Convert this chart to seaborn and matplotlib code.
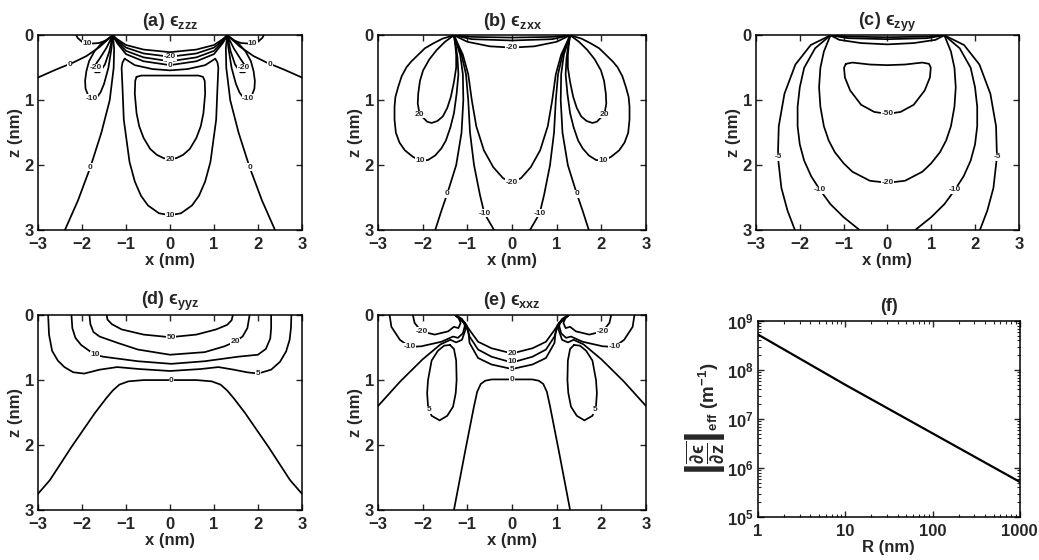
import pandas as pd
import seaborn as sns
import matplotlib
matplotlib.use('Agg')
import matplotlib.pyplot as plt
from matplotlib.ticker import FixedLocator, NullFormatter, LogLocator

# ---------------- (a) eps_zzz contour lines, (x, z) in nm ----------------
zzz_outer0_L = [(-3.0, 0.65), (-2.6, 0.53), (-2.2, 0.42), (-1.9, 0.32), (-1.6, 0.18), (-1.42, 0.07), (-1.3, 0.0)]
zzz_outer0_R = [(3.0, 0.65), (2.6, 0.53), (2.2, 0.42), (1.9, 0.32), (1.6, 0.18), (1.42, 0.07), (1.3, 0.0)]
zzz_p10_L = [(-1.3, 0.0), (-1.45, 0.08), (-1.62, 0.12), (-1.85, 0.13), (-2.0, 0.1), (-2.1, 0.04), (-2.13, 0.0)]
zzz_p10_R = [(1.3, 0.0), (1.45, 0.08), (1.62, 0.12), (1.85, 0.13), (2.0, 0.1), (2.1, 0.04), (2.13, 0.0)]
zzz_m20_L = [(-1.3, 0.0), (-1.45, 0.2), (-1.6, 0.36), (-1.7, 0.46), (-1.74, 0.53), (-1.7, 0.57), (-1.6, 0.57), (-1.48, 0.45), (-1.38, 0.25), (-1.3, 0.0)]
zzz_m20_R = [(1.3, 0.0), (1.45, 0.2), (1.6, 0.36), (1.7, 0.46), (1.74, 0.53), (1.7, 0.57), (1.6, 0.57), (1.48, 0.45), (1.38, 0.25), (1.3, 0.0)]
zzz_m10_L = [(-1.3, 0.0), (-1.55, 0.12), (-1.72, 0.25), (-1.84, 0.4), (-1.9, 0.55), (-1.93, 0.7), (-1.92, 0.82), (-1.86, 0.93),
             (-1.78, 0.98), (-1.68, 0.97), (-1.58, 0.88), (-1.5, 0.75), (-1.4, 0.5), (-1.33, 0.2), (-1.3, 0.0)]
zzz_m10_R = [(1.3, 0.0), (1.55, 0.12), (1.72, 0.25), (1.84, 0.4), (1.9, 0.55), (1.93, 0.7), (1.92, 0.82), (1.86, 0.93),
             (1.78, 0.98), (1.68, 0.97), (1.58, 0.88), (1.5, 0.75), (1.4, 0.5), (1.33, 0.2), (1.3, 0.0)]
zzz_inner0_L = [(-1.3, 0.0), (-1.27, 0.2), (-1.28, 0.5), (-1.37, 1.0), (-1.56, 1.5), (-1.81, 2.03), (-2.09, 2.54), (-2.39, 3.0)]
zzz_inner0_R = [(1.3, 0.0), (1.27, 0.2), (1.28, 0.5), (1.37, 1.0), (1.56, 1.5), (1.81, 2.03), (2.09, 2.54), (2.39, 3.0)]
zzz_arc1 = [(-1.3, 0.0), (-1.2, 0.06), (-1.0, 0.15), (-0.6, 0.22), (0.0, 0.26), (0.6, 0.22), (1.0, 0.15), (1.2, 0.06), (1.3, 0.0)]
zzz_arc_m20 = [(-1.3, 0.0), (-1.2, 0.08), (-1.0, 0.19), (-0.6, 0.28), (0.0, 0.33), (0.6, 0.28), (1.0, 0.19), (1.2, 0.08), (1.3, 0.0)]
zzz_arc3 = [(-1.3, 0.0), (-1.2, 0.1), (-1.0, 0.24), (-0.6, 0.34), (0.0, 0.4), (0.6, 0.34), (1.0, 0.24), (1.2, 0.1), (1.3, 0.0)]
zzz_arc0 = [(-1.3, 0.0), (-1.2, 0.12), (-1.0, 0.29), (-0.6, 0.4), (0.0, 0.46), (0.6, 0.4), (1.0, 0.29), (1.2, 0.12), (1.3, 0.0)]
zzz_p10_U = [(-1.03, 0.36), (-1.08, 0.42), (-1.1, 0.5), (-1.08, 0.8), (-1.05, 1.3), (-0.99, 1.6), (-0.92, 1.95), (-0.8, 2.25),
             (-0.66, 2.47), (-0.5, 2.62), (-0.25, 2.74), (0.0, 2.77), (0.25, 2.74), (0.5, 2.62), (0.66, 2.47), (0.8, 2.25),
             (0.92, 1.95), (0.99, 1.6), (1.05, 1.3), (1.08, 0.8), (1.1, 0.5), (1.08, 0.42),
             (1.03, 0.36), (0.8, 0.46), (0.4, 0.52), (0.0, 0.54), (-0.4, 0.52), (-0.8, 0.46), (-1.03, 0.36)]
zzz_p20 = [(-0.76, 0.64), (-0.79, 0.7), (-0.8, 0.9), (-0.76, 1.2), (-0.7, 1.4), (-0.6, 1.58), (-0.45, 1.75), (-0.3, 1.84),
           (-0.15, 1.89), (0.0, 1.91), (0.15, 1.89), (0.3, 1.84), (0.45, 1.75), (0.6, 1.58), (0.7, 1.4), (0.76, 1.2),
           (0.8, 0.9), (0.79, 0.7), (0.75, 0.64), (0.65, 0.62), (0.3, 0.62), (0.0, 0.62),
           (-0.3, 0.62), (-0.65, 0.62), (-0.76, 0.64)]
zzz_labels = [("-20", 0.0, 0.33), ("0", 0.0, 0.46), ("20", 0.0, 1.91), ("10", 0.0, 2.77),
              ("0", -2.28, 0.45), ("0", 2.28, 0.45), ("10", -1.88, 0.13), ("10", 1.88, 0.13),
              ("-20", -1.68, 0.5), ("-20", 1.68, 0.5), ("-10", -1.78, 0.97), ("-10", 1.78, 0.97),
              ("0", -1.81, 2.03), ("0", 1.81, 2.03)]

# ---------------- (b) eps_zxx ----------------
zxx_top1 = [(-1.3, 0.0), (-0.9, 0.025), (0.0, 0.035), (0.9, 0.025), (1.3, 0.0)]
zxx_top2 = [(-1.3, 0.0), (-0.9, 0.06), (0.0, 0.08), (0.9, 0.06), (1.3, 0.0)]
zxx_m20_arc = [(-1.3, 0.0), (-1.0, 0.1), (-0.5, 0.17), (0.0, 0.19), (0.5, 0.17), (1.0, 0.1), (1.3, 0.0)]
zxx_p10_L = [(-1.3, 0.0), (-1.55, 0.05), (-1.75, 0.12), (-1.95, 0.2), (-2.1, 0.3), (-2.25, 0.4), (-2.36, 0.49), (-2.47, 0.63),
             (-2.55, 0.8), (-2.61, 0.95), (-2.63, 1.1), (-2.63, 1.3), (-2.6, 1.5), (-2.52, 1.65), (-2.4, 1.77), (-2.22, 1.87),
             (-2.05, 1.93), (-1.88, 1.92), (-1.72, 1.85), (-1.58, 1.74), (-1.48, 1.62), (-1.38, 1.42), (-1.3, 1.2),
             (-1.24, 0.9), (-1.2, 0.6), (-1.22, 0.35), (-1.25, 0.2), (-1.3, 0.0)]
zxx_p10_R = [(1.3, 0.0), (1.55, 0.05), (1.75, 0.12), (1.95, 0.2), (2.1, 0.3), (2.25, 0.4), (2.36, 0.49), (2.47, 0.63),
             (2.55, 0.8), (2.61, 0.95), (2.63, 1.1), (2.63, 1.3), (2.6, 1.5), (2.52, 1.65), (2.4, 1.77), (2.22, 1.87),
             (2.05, 1.93), (1.88, 1.92), (1.72, 1.85), (1.58, 1.74), (1.48, 1.62), (1.38, 1.42), (1.3, 1.2),
             (1.24, 0.9), (1.2, 0.6), (1.22, 0.35), (1.25, 0.2), (1.3, 0.0)]
zxx_p20_L = [(-1.3, 0.0), (-1.5, 0.1), (-1.69, 0.23), (-1.85, 0.37), (-1.99, 0.54), (-2.06, 0.7), (-2.1, 0.9), (-2.11, 1.05),
             (-2.08, 1.17), (-2.0, 1.26), (-1.9, 1.33), (-1.8, 1.35), (-1.67, 1.32), (-1.55, 1.25), (-1.45, 1.12),
             (-1.37, 0.95), (-1.3, 0.72), (-1.25, 0.5), (-1.25, 0.3), (-1.27, 0.15), (-1.3, 0.0)]
zxx_p20_R = [(1.3, 0.0), (1.5, 0.1), (1.69, 0.23), (1.85, 0.37), (1.99, 0.54), (2.06, 0.7), (2.1, 0.9), (2.11, 1.05),
             (2.08, 1.17), (2.0, 1.26), (1.9, 1.33), (1.8, 1.35), (1.67, 1.32), (1.55, 1.25), (1.45, 1.12),
             (1.37, 0.95), (1.3, 0.72), (1.25, 0.5), (1.25, 0.3), (1.27, 0.15), (1.3, 0.0)]
zxx_zero_L = [(-1.3, 0.0), (-1.16, 0.3), (-1.1, 0.6), (-1.09, 1.0), (-1.13, 1.5), (-1.25, 2.0), (-1.45, 2.44), (-1.58, 2.7), (-1.72, 3.0)]
zxx_zero_R = [(1.3, 0.0), (1.16, 0.3), (1.1, 0.6), (1.09, 1.0), (1.13, 1.5), (1.25, 2.0), (1.45, 2.44), (1.58, 2.7), (1.72, 3.0)]
zxx_m10_L = [(-1.3, 0.0), (-1.13, 0.3), (-1.03, 0.6), (-0.98, 1.0), (-0.94, 1.5), (-0.85, 2.0), (-0.72, 2.45), (-0.62, 2.74), (-0.4, 3.0)]
zxx_m10_R = [(1.3, 0.0), (1.13, 0.3), (1.03, 0.6), (0.98, 1.0), (0.94, 1.5), (0.85, 2.0), (0.72, 2.45), (0.62, 2.74), (0.4, 3.0)]
zxx_m20_U = [(-1.3, 0.0), (-1.1, 0.3), (-0.98, 0.6), (-0.9, 1.0), (-0.8, 1.4), (-0.63, 1.77), (-0.42, 2.03), (-0.2, 2.2),
             (0.0, 2.26), (0.2, 2.2), (0.42, 2.03), (0.63, 1.77), (0.8, 1.4), (0.9, 1.0), (0.98, 0.6), (1.1, 0.3), (1.3, 0.0)]
zxx_labels = [("-20", 0.0, 0.19), ("20", -2.07, 1.22), ("20", 2.07, 1.22), ("10", -2.05, 1.93), ("10", 2.05, 1.93),
              ("0", -1.45, 2.44), ("0", 1.45, 2.44), ("-10", -0.62, 2.74), ("-10", 0.62, 2.74), ("-20", 0.0, 2.26)]

# ---------------- (c) eps_zyy ----------------
zyy_top1 = [(-1.3, 0.0), (-0.9, 0.02), (0.0, 0.03), (0.9, 0.02), (1.3, 0.0)]
zyy_top2 = [(-1.3, 0.0), (-0.9, 0.045), (0.0, 0.06), (0.9, 0.045), (1.3, 0.0)]
zyy_top3 = [(-1.3, 0.0), (-1.1, 0.07), (-0.6, 0.12), (0.0, 0.14), (0.6, 0.12), (1.1, 0.07), (1.3, 0.0)]
zyy_m50 = [(-0.95, 0.44), (-0.99, 0.5), (-0.97, 0.65), (-0.85, 0.85), (-0.6, 1.07), (-0.3, 1.18), (0.0, 1.21), (0.3, 1.18),
           (0.6, 1.07), (0.85, 0.85), (0.97, 0.65), (0.99, 0.5), (0.95, 0.44), (0.8, 0.42), (0.4, 0.45), (0.0, 0.46),
           (-0.4, 0.45), (-0.8, 0.42), (-0.95, 0.44)]
zyy_m20_U = [(-1.3, 0.0), (-1.45, 0.25), (-1.53, 0.5), (-1.56, 0.8), (-1.53, 1.1), (-1.45, 1.4), (-1.34, 1.62), (-1.2, 1.8),
             (-1.0, 1.97), (-0.8, 2.1), (-0.4, 2.24), (0.0, 2.27), (0.4, 2.24), (0.8, 2.1), (1.0, 1.97), (1.2, 1.8),
             (1.34, 1.62), (1.45, 1.4), (1.53, 1.1), (1.56, 0.8), (1.53, 0.5), (1.45, 0.25), (1.3, 0.0)]
zyy_m10_L = [(-1.3, 0.0), (-1.65, 0.2), (-1.9, 0.5), (-2.0, 0.8), (-2.05, 1.1), (-2.05, 1.4), (-2.0, 1.68), (-1.9, 1.93),
             (-1.74, 2.17), (-1.54, 2.38), (-1.3, 2.6), (-1.0, 2.8), (-0.63, 3.0)]
zyy_m10_R = [(1.3, 0.0), (1.65, 0.2), (1.9, 0.5), (2.0, 0.8), (2.05, 1.1), (2.05, 1.4), (2.0, 1.68), (1.9, 1.93),
             (1.74, 2.17), (1.54, 2.38), (1.3, 2.6), (1.0, 2.8), (0.63, 3.0)]
zyy_m5_L = [(-1.3, 0.0), (-1.75, 0.15), (-2.1, 0.45), (-2.35, 0.9), (-2.48, 1.4), (-2.5, 1.87), (-2.42, 2.35), (-2.28, 2.7), (-2.11, 3.0)]
zyy_m5_R = [(1.3, 0.0), (1.75, 0.15), (2.1, 0.45), (2.35, 0.9), (2.48, 1.4), (2.5, 1.87), (2.42, 2.35), (2.28, 2.7), (2.11, 3.0)]
zyy_labels = [("-50", 0.0, 1.21), ("-20", 0.0, 2.27), ("-5", -2.5, 1.87), ("-5", 2.5, 1.87),
              ("-10", -1.54, 2.38), ("-10", 1.54, 2.38)]

# ---------------- (d) eps_yyz ----------------
yyz_p50 = [(-1.44, 0.0), (-1.42, 0.07), (-1.32, 0.14), (-1.1, 0.22), (-0.6, 0.3), (0.0, 0.34), (0.6, 0.3), (1.05, 0.22),
           (1.3, 0.15), (1.4, 0.08), (1.43, 0.0)]
yyz_p20 = [(-1.83, 0.0), (-1.81, 0.14), (-1.74, 0.26), (-1.6, 0.33), (-1.18, 0.43), (-0.73, 0.53), (0.0, 0.61), (0.79, 0.57),
           (1.24, 0.48), (1.48, 0.41), (1.65, 0.33), (1.76, 0.2), (1.81, 0.0)]
yyz_p10 = [(-2.24, 0.0), (-2.22, 0.2), (-2.15, 0.35), (-2.02, 0.46), (-1.71, 0.61), (-1.52, 0.64), (-0.73, 0.71), (0.03, 0.75),
           (0.79, 0.71), (1.55, 0.64), (2.0, 0.61), (2.18, 0.52), (2.28, 0.36), (2.3, 0.2), (2.3, 0.0)]
yyz_p5 = [(-2.77, 0.0), (-2.75, 0.3), (-2.68, 0.55), (-2.55, 0.7), (-2.4, 0.8), (-2.2, 0.88), (-1.95, 0.9), (-1.6, 0.84),
          (-1.2, 0.8), (-0.7, 0.83), (0.0, 0.86), (0.7, 0.83), (1.1, 0.8), (1.45, 0.84), (1.75, 0.88), (2.0, 0.9),
          (2.3, 0.84), (2.5, 0.72), (2.64, 0.56), (2.72, 0.38), (2.75, 0.2), (2.76, 0.0)]
yyz_zero = [(-3.0, 2.75), (-2.73, 2.54), (-2.24, 2.03), (-1.71, 1.51), (-1.45, 1.28), (-1.3, 1.16), (-1.15, 1.07),
            (-0.95, 1.02), (-0.6, 1.0), (0.0, 1.0), (0.6, 1.0), (0.95, 1.02), (1.15, 1.07), (1.3, 1.16), (1.45, 1.28),
            (1.71, 1.51), (2.24, 2.03), (2.73, 2.54), (3.0, 2.75)]
yyz_labels = [("50", 0.03, 0.34), ("20", 1.48, 0.41), ("10", -1.71, 0.61), ("5", 2.0, 0.9), ("0", 0.03, 1.0)]

# ---------------- (e) eps_xxz ----------------
xxz_m20_L = [(-2.22, 0.0), (-2.18, 0.12), (-2.03, 0.25), (-1.73, 0.3), (-1.43, 0.25), (-1.3, 0.18), (-1.2, 0.2), (-1.15, 0.12), (-1.2, 0.04), (-1.27, 0.0)]
xxz_m20_R = [(2.22, 0.0), (2.18, 0.12), (2.03, 0.25), (1.73, 0.3), (1.43, 0.25), (1.3, 0.18), (1.2, 0.2), (1.15, 0.12), (1.2, 0.04), (1.27, 0.0)]
xxz_m10_L = [(-2.74, 0.0), (-2.7, 0.18), (-2.51, 0.38), (-2.29, 0.49), (-2.03, 0.48), (-1.58, 0.41), (-1.32, 0.33), (-1.21, 0.35),
             (-1.1, 0.28), (-1.05, 0.15), (-1.15, 0.05), (-1.27, 0.0)]
xxz_m10_R = [(2.74, 0.0), (2.7, 0.18), (2.51, 0.38), (2.29, 0.49), (2.03, 0.48), (1.58, 0.41), (1.32, 0.33), (1.21, 0.35),
             (1.1, 0.28), (1.05, 0.15), (1.15, 0.05), (1.27, 0.0)]
xxz_diag_L = [(-3.0, 1.4), (-2.5, 1.02), (-2.0, 0.68), (-1.6, 0.45), (-1.38, 0.38), (-1.25, 0.42), (-1.12, 0.38), (-1.03, 0.2), (-1.12, 0.06), (-1.27, 0.0)]
xxz_diag_R = [(3.0, 1.4), (2.5, 1.02), (2.0, 0.68), (1.6, 0.45), (1.38, 0.38), (1.25, 0.42), (1.12, 0.38), (1.03, 0.2), (1.12, 0.06), (1.27, 0.0)]
xxz_p5lobe_L = [(-1.39, 0.46), (-1.52, 0.47), (-1.66, 0.55), (-1.8, 0.7), (-1.88, 1.0), (-1.9, 1.2), (-1.88, 1.4), (-1.8, 1.55),
                (-1.62, 1.62), (-1.45, 1.55), (-1.32, 1.41), (-1.26, 1.2), (-1.24, 1.0), (-1.25, 0.7), (-1.3, 0.52), (-1.39, 0.46)]
xxz_p5lobe_R = [(1.39, 0.46), (1.52, 0.47), (1.66, 0.55), (1.8, 0.7), (1.88, 1.0), (1.9, 1.2), (1.88, 1.4), (1.8, 1.55),
                (1.62, 1.62), (1.45, 1.55), (1.32, 1.41), (1.26, 1.2), (1.24, 1.0), (1.25, 0.7), (1.3, 0.52), (1.39, 0.46)]
xxz_p20 = [(-1.27, 0.0), (-1.1, 0.08), (-1.0, 0.18), (-0.95, 0.23), (-0.76, 0.41), (-0.46, 0.51), (0.0, 0.59),
           (0.46, 0.51), (0.76, 0.41), (0.95, 0.23), (1.0, 0.18), (1.1, 0.08), (1.27, 0.0)]
xxz_p10 = [(-1.27, 0.0), (-1.05, 0.12), (-0.98, 0.25), (-0.95, 0.33), (-0.76, 0.53), (-0.46, 0.64), (0.0, 0.73),
           (0.46, 0.64), (0.76, 0.53), (0.95, 0.33), (0.98, 0.25), (1.05, 0.12), (1.27, 0.0)]
xxz_p5 = [(-1.27, 0.0), (-1.02, 0.15), (-0.97, 0.3), (-0.95, 0.43), (-0.76, 0.66), (-0.46, 0.76), (0.0, 0.83),
          (0.46, 0.76), (0.76, 0.66), (0.95, 0.43), (0.97, 0.3), (1.02, 0.15), (1.27, 0.0)]
xxz_zero = [(-1.3, 3.0), (-1.05, 2.1), (-0.85, 1.4), (-0.78, 1.18), (-0.7, 1.06), (-0.6, 1.01), (-0.45, 0.99), (0.0, 0.99),
            (0.45, 0.99), (0.6, 1.01), (0.7, 1.06), (0.78, 1.18), (0.85, 1.4), (1.05, 2.1), (1.3, 3.0)]
xxz_labels = [("20", 0.0, 0.59), ("10", 0.0, 0.72), ("5", 0.0, 0.84), ("0", 0.0, 0.99),
              ("-20", -2.03, 0.25), ("-20", 2.03, 0.25), ("-10", -2.29, 0.49), ("-10", 2.29, 0.49),
              ("5", -1.86, 1.46), ("5", 1.86, 1.46)]

# ---------------- (f) effective strain gradient ----------------
R_nm = [1, 10, 100, 1000]
grad_eff = [5.3e8, 5.0e7, 5.1e6, 5.2e5]

sns.set_style('ticks')
plt.rcParams['font.family'] = ['Liberation Sans', 'DejaVu Sans']
plt.rcParams['font.weight'] = 'bold'
plt.rcParams['axes.labelweight'] = 'bold'
plt.rcParams['axes.titleweight'] = 'bold'
plt.rcParams['mathtext.fontset'] = 'custom'
plt.rcParams['mathtext.rm'] = 'Liberation Sans:bold'
plt.rcParams['mathtext.bf'] = 'Liberation Sans:bold'
plt.rcParams['mathtext.it'] = 'Liberation Sans:bold'
plt.rcParams['mathtext.default'] = 'bf'

fig = plt.figure(figsize=(10.39, 5.6), dpi=100)


def style_box(ax):
    ax.tick_params(direction='in', top=True, right=True, length=4, width=1, labelsize=12)
    ax.tick_params(axis='x', pad=5)
    ax.tick_params(axis='y', pad=3)
    for s in ax.spines.values():
        s.set_linewidth(1.1)
        s.set_color('black')


def contour_panel(rect, curves, labels, title):
    ax = fig.add_axes(rect)
    for pts in curves:
        df = pd.DataFrame(pts, columns=['x', 'z'])
        sns.lineplot(data=df, x='x', y='z', sort=False, estimator=None, color='black', lw=1.25, ax=ax)
    for s, x, z in labels:
        ax.text(x, z, s, ha='center', va='center', fontsize=6, fontweight='bold', zorder=5,
                bbox=dict(fc='white', ec='none', pad=0.3))
    ax.set_xlim(-3, 3)
    ax.set_ylim(3, 0)
    ax.set_xticks([-3, -2, -1, 0, 1, 2, 3])
    ax.set_yticks([0, 1, 2, 3])
    ax.set_xlabel('x (nm)', fontsize=12, labelpad=1)
    ax.set_ylabel('z (nm)', fontsize=12, labelpad=1)
    ax.set_title(title, fontsize=13, pad=7)
    style_box(ax)
    return ax


contour_panel([0.0366, 0.589, 0.254, 0.348],
              [zzz_outer0_L, zzz_outer0_R, zzz_p10_L, zzz_p10_R, zzz_m20_L, zzz_m20_R, zzz_m10_L, zzz_m10_R,
               zzz_inner0_L, zzz_inner0_R, zzz_arc1, zzz_arc_m20, zzz_arc3, zzz_arc0, zzz_p10_U, zzz_p20],
              zzz_labels, '(a) \u03f5$_{zzz}$')
contour_panel([0.3638, 0.589, 0.258, 0.348],
              [zxx_top1, zxx_top2, zxx_m20_arc, zxx_p10_L, zxx_p10_R, zxx_p20_L, zxx_p20_R, zxx_zero_L, zxx_zero_R,
               zxx_m10_L, zxx_m10_R, zxx_m20_U],
              zxx_labels, '(b) \u03f5$_{zxx}$')
contour_panel([0.7276, 0.589, 0.253, 0.348],
              [zyy_top1, zyy_top2, zyy_top3, zyy_m50, zyy_m20_U, zyy_m10_L, zyy_m10_R, zyy_m5_L, zyy_m5_R],
              zyy_labels, '(c) \u03f5$_{zyy}$')
contour_panel([0.0366, 0.0893, 0.254, 0.348],
              [yyz_p50, yyz_p20, yyz_p10, yyz_p5, yyz_zero],
              yyz_labels, '(d) \u03f5$_{yyz}$')
contour_panel([0.3638, 0.0893, 0.258, 0.348],
              [xxz_m20_L, xxz_m20_R, xxz_m10_L, xxz_m10_R, xxz_diag_L, xxz_diag_R, xxz_p5lobe_L, xxz_p5lobe_R,
               xxz_p20, xxz_p10, xxz_p5, xxz_zero],
              xxz_labels, '(e) \u03f5$_{xxz}$')

# (f) log-log
axf = fig.add_axes([0.7295, 0.0768, 0.252, 0.35])
sns.lineplot(x=R_nm, y=grad_eff, color='black', lw=1.6, ax=axf)
axf.set_xscale('log')
axf.set_yscale('log')
axf.set_xlim(1, 1000)
axf.set_ylim(1e5, 1e9)
axf.xaxis.set_major_locator(FixedLocator([1, 10, 100, 1000]))
axf.set_xticklabels(['1', '10', '100', '1000'])
axf.xaxis.set_minor_locator(LogLocator(base=10, subs=range(2, 10)))
axf.xaxis.set_minor_formatter(NullFormatter())
axf.yaxis.set_major_locator(FixedLocator([1e5, 1e6, 1e7, 1e8, 1e9]))
axf.yaxis.set_minor_locator(LogLocator(base=10, subs=range(2, 10)))
axf.yaxis.set_minor_formatter(NullFormatter())
style_box(axf)
axf.tick_params(which='minor', direction='in', top=True, right=True, length=2, width=0.8)
axf.set_xlabel('R (nm)', fontsize=12, labelpad=1)
axf.set_ylabel('$\\left|\\overline{\\dfrac{\\partial\u03f5}{\\partial z}}\\right|_{eff}$ (m$^{-1}$)',
               fontsize=13.5, labelpad=0)
axf.set_title('(f)', fontsize=13, pad=7)

fig.savefig('out.png', dpi=100)
